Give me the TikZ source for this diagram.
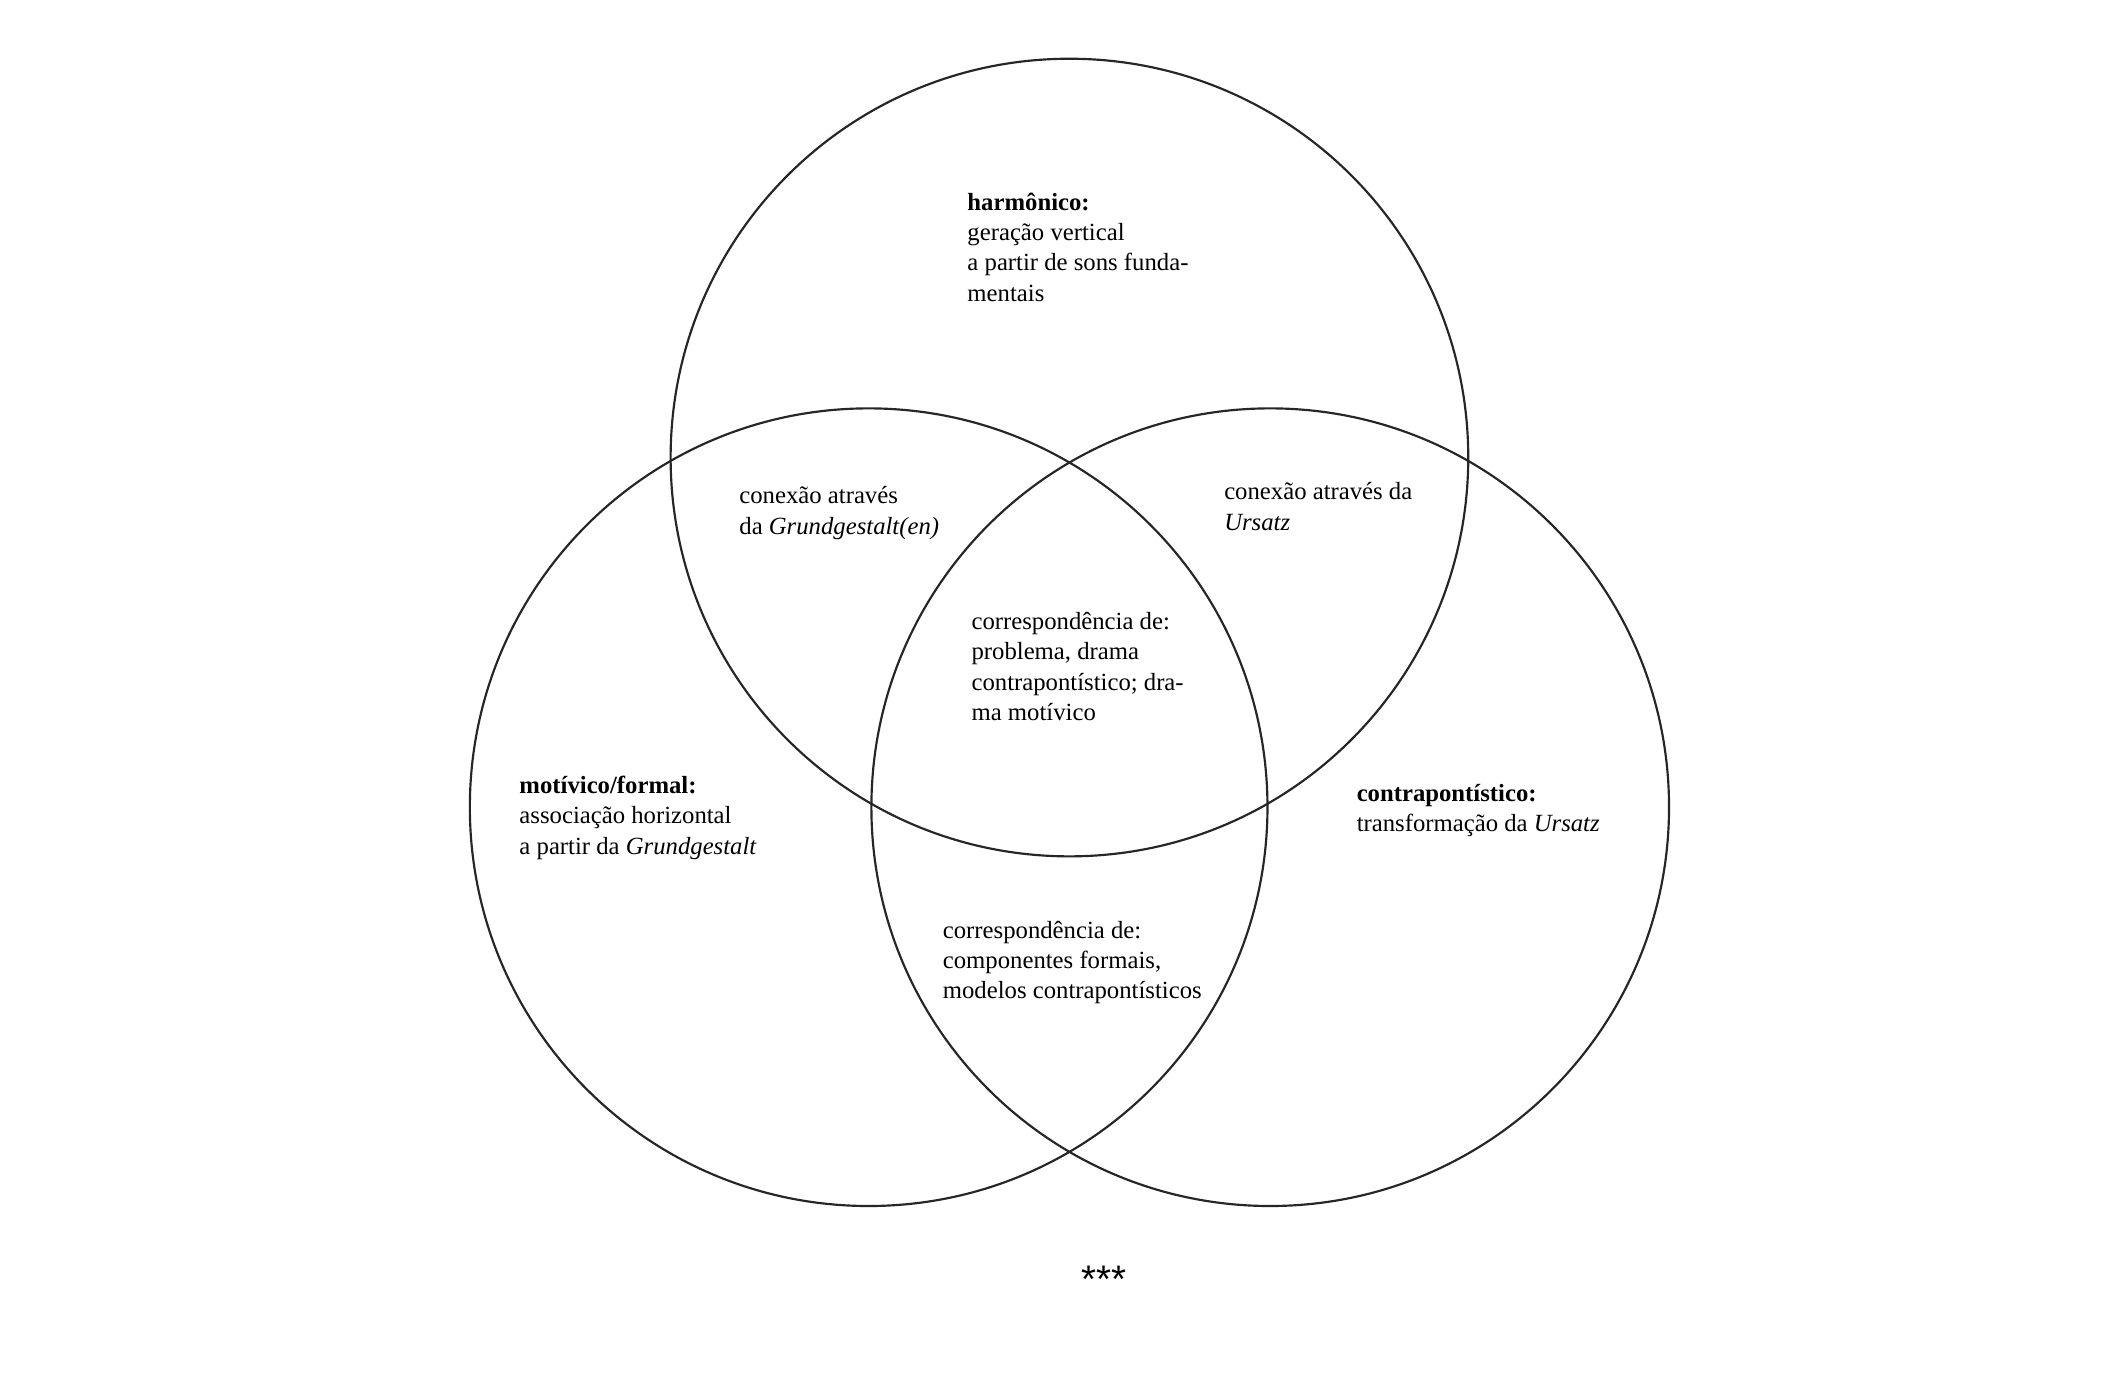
\documentclass[tikz,border=0pt]{standalone}
\usepackage{fontspec}
\setmainfont{Liberation Serif}
\newfontfamily\starfont{Liberation Sans}
\begin{document}
\begin{tikzpicture}[x=0.02cm,y=-0.02cm,
  ring/.style={draw=black!85,line width=0.9pt},
  lbl/.style={anchor=north west,align=left,inner sep=0pt,font=\fontsize{10.3}{12.6}\selectfont}]
\useasboundingbox (0,0) rectangle (1550,1013);
\fill[white] (0,0) rectangle (1550,1013);
\node[ring,circle,minimum size=584*0.02cm,inner sep=0pt] (top) at (783,335) {};
\node[ring,circle,minimum size=584*0.02cm,inner sep=0pt] (left) at (636,591) {};
\node[ring,circle,minimum size=584*0.02cm,inner sep=0pt] (right) at (930,591) {};
\node[lbl] (h) at (708,141) {\textbf{harmônico:}\\geração vertical\\a partir de sons funda-\\mentais};
\node[lbl] (gg) at (541,356) {conexão através\\da \textit{Grundgestalt(en)}};
\node[lbl] (ur) at (896,353) {conexão através da\\\textit{Ursatz}};
\node[lbl] (c1) at (711,448) {correspondência de:\\problema, drama\\contrapontístico; dra-\\ma motívico};
\node[lbl] (mf) at (380,568) {\textbf{motívico/formal:}\\associação horizontal\\a partir da \textit{Grundgestalt}};
\node[lbl] (ct) at (993,574) {\textbf{contrapontístico:}\\transformação da \textit{Ursatz}};
\node[lbl] (c2) at (690,674) {correspondência de:\\componentes formais,\\modelos contrapontísticos};
\node[font=\starfont\fontsize{16}{18}\selectfont] (st) at (808,937) {***};
\end{tikzpicture}
\end{document}
